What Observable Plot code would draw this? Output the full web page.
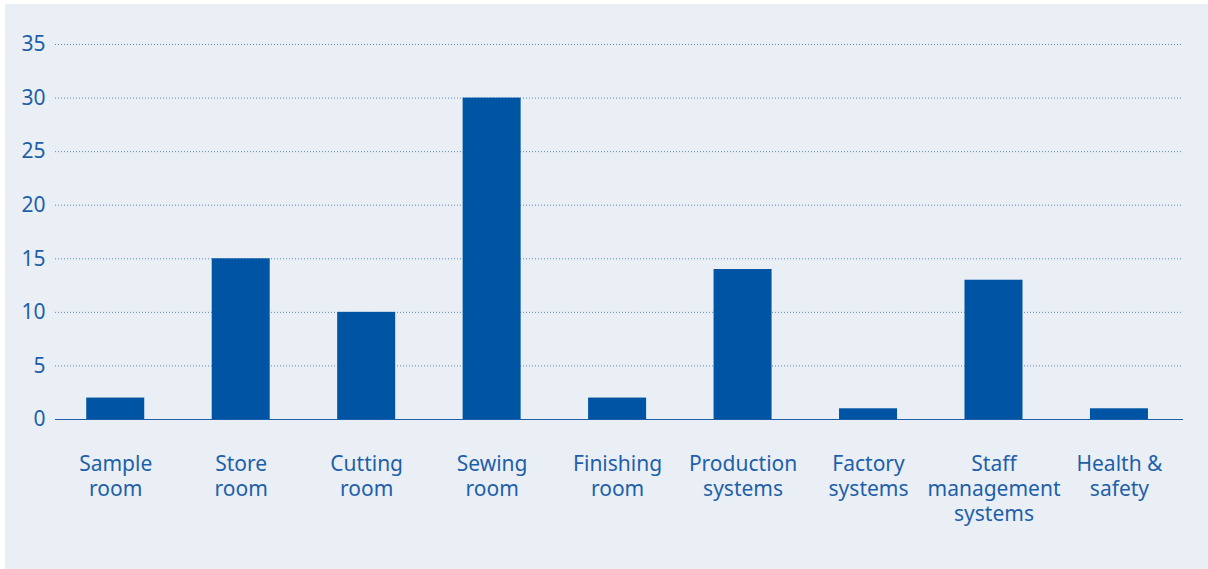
<!DOCTYPE html>
<html>
<head>
<meta charset="utf-8">
<script src="https://cdn.jsdelivr.net/npm/d3@7"></script>
<script src="https://cdn.jsdelivr.net/npm/@observablehq/plot@0.6"></script>
<style>
  html, body { margin: 0; padding: 0; background: #ffffff; }
  #panel { position: absolute; left: 5px; top: 4px; width: 1203px; height: 565px; background: #e9eff5; }
  #panel svg { display: block; }
</style>
</head>
<body>
<div id="panel"></div>
<script>
const categories = ["Sample\nroom", "Store\nroom", "Cutting\nroom", "Sewing\nroom", "Finishing\nroom", "Production\nsystems", "Factory\nsystems", "Staff\nmanagement\nsystems", "Health &\nsafety"];
const values = [2, 15, 10, 30, 2, 14, 1, 13, 1];
const yTicks = [0, 5, 10, 15, 20, 25, 30, 35];

const data = categories.map((c, i) => ({category: c, value: values[i]}));
const textColor = "#1f5fa9";

const chart = Plot.plot({
  width: 1203,
  height: 565,
  marginLeft: 50,
  marginRight: 25,
  marginTop: 40,
  marginBottom: 150,
  style: {background: "transparent", fontFamily: "'Noto Sans', 'Open Sans', sans-serif", color: textColor},
  x: {domain: categories, range: [47.5, 1176.7], round: false, paddingInner: 0.5377, paddingOuter: 0.2689, label: null},
  y: {domain: [0, 35], label: null},
  marks: [
    Plot.ruleY(yTicks.filter(d => d > 0), {stroke: "#4a7fbf", strokeWidth: 1, strokeDasharray: "1,2", strokeOpacity: 0.9}),
    Plot.barY(data, {x: "category", y: "value", fill: "#0054a4"}),
    Plot.ruleY([0], {stroke: "#1f5fa9", strokeWidth: 1.2}),
    Plot.axisY({ticks: yTicks, tickSize: 0, tickPadding: 10, fontSize: 21, fill: textColor, label: null}),
    Plot.axisX({tickSize: 0, tickPadding: 34, fontSize: 21, lineHeight: 1.19, fill: textColor, label: null, lineAnchor: "top"})
  ]
});
document.getElementById("panel").appendChild(chart);
</script>
</body>
</html>
